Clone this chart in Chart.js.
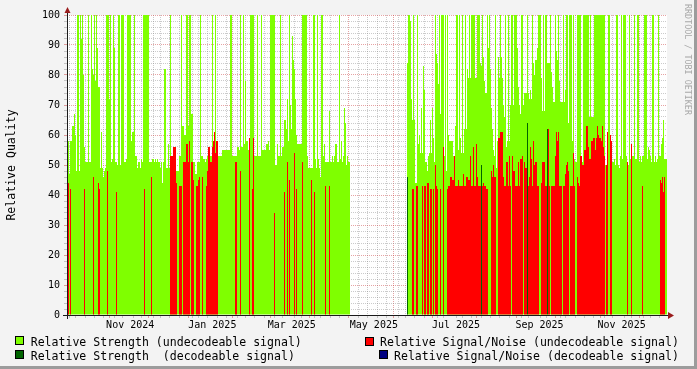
<!DOCTYPE html>
<html>
<head>
<meta charset="utf-8">
<script src="https://cdn.jsdelivr.net/npm/chart.js@4.4.0/dist/chart.umd.min.js"></script>
<style>
html,body{margin:0;padding:0;background:#f3f3f3;}
#wrap{position:relative;width:697px;height:369px;background:#f3f3f3;overflow:hidden;font-family:"DejaVu Sans Mono",monospace;}
#c{position:absolute;left:0;top:0;}
.frameR{position:absolute;right:0;top:0;width:3px;height:369px;background:#9c9c9c;}
.frameB{position:absolute;left:0;bottom:0;width:697px;height:3px;background:#9c9c9c;}
.lg{position:absolute;font-size:11.56px;line-height:12px;color:#000;white-space:pre;}
.bx{position:absolute;width:7px;height:7px;border:1px solid #000;}
.wm{position:absolute;left:683px;top:4px;font-size:8.4px;line-height:10px;color:#a8a8a8;writing-mode:vertical-rl;white-space:pre;}
</style>
</head>
<body>
<div id="wrap">
<canvas id="c" width="697" height="369"></canvas>
<div class="frameR"></div><div class="frameB"></div>
<div class="wm">RRDTOOL / TOBI OETIKER</div>
<div class="bx" style="left:15px;top:336px;background:#7FFF00"></div>
<div class="lg" style="left:30.7px;top:335.5px">Relative Strength (undecodeable signal)</div>
<div class="bx" style="left:15px;top:350px;background:#006400"></div>
<div class="lg" style="left:30.7px;top:349.5px">Relative Strength  (decodeable signal)</div>
<div class="bx" style="left:365px;top:336.5px;background:#FF0000"></div>
<div class="lg" style="left:380px;top:335.5px">Relative Signal/Noise (undecodeable signal)</div>
<div class="bx" style="left:379px;top:350px;background:#000080"></div>
<div class="lg" style="left:394px;top:349.5px">Relative Signal/Noise (decodeable signal)</div>
</div>
<script>
// ---- time frame ----
const startDate = Date.UTC(2024, 8, 30, 1, 30);
const spanDays = 445.67;

// ---- x axis labels (month label, centred mid-month) ----
const xTickLabels = ['Nov 2024','Jan 2025','Mar 2025','May 2025','Jul 2025','Sep 2025','Nov 2025'];
const xTickMonths = ['2024-11','2025-01','2025-03','2025-05','2025-07','2025-09','2025-11'];

// ---- y axis ----
const yMin = 0, yMax = 100, yMinorStep = 2, yLabelStep = 10;

// ---- series: one value per time step (null = no data) ----
const strengthUndecodeable = [
60,58,47,58,58,63,63,67,60,48,
100,100,48,100,92,100,80,56,51,51,
51,100,51,51,100,82,80,100,78,100,
89,76,76,49,61,49,46,48,49,100,
100,100,72,100,51,52,100,89,51,51,
50,100,100,50,100,100,100,51,51,52,
100,100,100,100,58,61,61,100,53,53,
49,51,51,49,52,51,100,100,100,100,
100,100,51,51,51,52,52,51,52,51,
52,51,51,49,51,44,51,82,82,49,
49,57,49,100,49,48,48,50,48,48,
48,48,53,53,100,63,63,60,60,100,
100,63,100,100,67,67,51,51,47,47,
51,51,51,100,53,53,52,52,51,52,
53,53,53,53,53,100,53,53,100,53,
55,53,53,53,53,55,55,55,55,55,
55,55,55,100,100,53,53,53,53,53,
56,56,55,100,56,56,100,57,78,58,
58,55,55,100,100,100,100,53,53,53,
100,53,53,53,100,55,55,55,55,57,
57,58,55,100,100,100,100,100,50,50,
57,53,53,100,53,56,56,65,65,62,
72,58,100,70,62,93,85,82,72,60,
57,57,57,57,57,100,100,100,100,100,
53,49,49,49,49,49,100,100,52,49,
100,52,49,46,100,100,53,57,51,51,
51,51,68,51,51,53,51,53,57,57,
51,51,100,52,58,51,53,69,64,50,
53,51,51,
null,null,null,null,null,null,null,null,null,null,
null,null,null,null,null,null,null,null,null,null,
null,null,null,null,null,null,null,null,null,null,
null,null,null,null,null,null,null,null,null,null,
null,null,null,null,null,null,null,null,null,null,
null,null,null,null,null,null,null,
84,100,100,98,72,65,100,65,44,44,
100,57,60,54,69,54,83,75,51,51,
48,53,54,65,54,69,59,51,100,87,
84,77,100,67,100,100,100,53,100,48,
100,60,58,58,58,58,53,53,63,100,
100,55,100,59,54,100,54,62,100,62,
82,79,100,79,100,100,100,100,79,79,
100,100,100,84,83,100,86,78,74,74,
100,89,100,82,69,62,55,53,100,49,
58,86,79,100,86,79,70,66,100,56,
58,100,58,70,100,100,70,100,100,100,
89,76,70,67,100,100,70,74,74,74,
100,74,72,75,72,100,84,80,85,85,
89,100,100,100,79,68,100,68,100,100,
84,84,84,100,81,76,71,71,100,88,
85,100,78,71,71,71,100,71,75,100,
100,64,100,100,100,58,100,52,51,51,
100,100,100,100,51,51,100,100,100,100,
100,100,66,100,66,66,66,100,100,100,
100,100,100,100,100,100,100,100,50,50,
50,100,100,53,53,51,51,52,50,100,
100,50,49,53,100,52,100,100,100,53,
50,50,100,52,52,53,53,100,52,52,
100,100,51,53,51,53,53,100,100,100,
52,56,55,53,51,100,100,51,53,51,
52,100,53,53,57,59,65,52,52,52
];

const snrUndecodeable = [
42,44,0,42,0,0,0,0,0,0,
0,0,0,0,0,0,0,42,0,0,
0,0,0,0,0,0,46,0,0,0,
0,44,42,0,0,0,0,0,0,0,
48,0,0,0,0,0,0,0,0,41,
0,0,0,0,0,0,0,0,0,0,
0,0,0,0,0,0,0,0,0,0,
0,0,0,0,0,0,0,42,0,0,
0,0,0,0,46,0,0,0,0,0,
0,0,0,0,0,0,0,0,0,0,
0,0,0,53,53,53,56,56,56,44,
0,0,43,43,43,0,51,51,51,57,
57,51,58,0,51,51,45,0,0,43,
43,45,46,0,0,46,0,0,0,43,
48,56,56,51,51,56,58,61,54,58,
58,0,0,0,0,0,0,0,0,0,
0,0,0,0,0,0,0,0,51,51,
0,0,0,48,0,0,0,0,0,0,
0,0,59,0,0,42,59,0,0,0,
0,0,0,0,0,0,0,0,0,0,
0,0,0,0,0,0,0,34,0,0,
0,0,0,0,0,0,0,41,0,0,
51,0,45,0,0,0,0,54,0,42,
0,0,0,0,0,51,0,0,0,0,
0,0,0,0,45,0,0,41,0,0,
0,0,0,0,0,0,0,0,43,0,
0,0,43,0,0,0,0,0,0,0,
0,0,0,0,0,0,0,0,0,0,
0,0,0,
null,null,null,null,null,null,null,null,null,null,
null,null,null,null,null,null,null,null,null,null,
null,null,null,null,null,null,null,null,null,null,
null,null,null,null,null,null,null,null,null,null,
null,null,null,null,null,null,null,null,null,null,
null,null,null,null,null,null,null,
0,0,0,0,0,42,42,0,0,43,
43,0,0,0,0,43,0,43,43,0,
44,44,0,42,42,0,42,0,50,43,
42,0,0,42,0,0,56,0,0,0,
42,43,43,46,46,45,45,53,43,43,
43,45,43,43,43,43,47,43,43,46,
46,45,45,53,43,43,56,43,43,57,
46,43,43,43,0,43,44,43,43,42,
42,0,0,0,48,46,50,46,46,0,
0,59,59,61,61,61,46,43,43,51,
51,43,53,43,0,53,48,48,43,43,
43,51,43,52,52,53,0,51,49,49,
0,43,46,56,52,43,58,50,51,51,
43,43,0,0,44,51,51,51,43,43,
0,62,43,0,43,43,43,43,53,61,
58,61,43,43,43,0,43,43,47,50,
51,48,0,43,43,43,54,43,0,0,
46,44,43,53,53,50,50,55,55,63,
63,56,52,52,58,58,59,59,55,59,
63,60,59,59,58,63,56,53,0,50,
61,0,0,60,58,0,0,0,0,0,
0,0,0,0,0,0,0,0,0,0,
51,0,0,0,57,0,0,0,0,0,
0,0,0,0,0,43,0,0,0,0,
0,0,0,0,0,0,0,0,0,0,
0,0,0,45,44,46,41,46,0,0
];

// decodeable signal: only a few time steps carry a value
const decodeStepIndex = [340, 414, 460, 480];
const strengthDecodeable = [46, 50, 64, 62];
const snrDecodeable = [null, null, null, null];

// ---- build library data ----
const DAY = 86400000;
const nSteps = strengthUndecodeable.length;
const stepDays = spanDays / nSteps;
const stepX = i => (i + 0.5) * stepDays;
const toDays = ms => (ms - startDate) / DAY;
const endDate = startDate + spanDays * DAY;

const ptsStrength = strengthUndecodeable.map((v, i) => ({x: stepX(i), y: v}));
const ptsSnr = snrUndecodeable.map((v, i) => ({x: stepX(i), y: v === 0 ? null : v}));
const ptsStrDec = decodeStepIndex.map((s, k) => ({x: stepX(s), y: strengthDecodeable[k]}));
const ptsSnrDec = decodeStepIndex.map((s, k) => ({x: stepX(s), y: snrDecodeable[k]}));

// x ticks: weekly minor grid, monthly major grid, mid-month labels
const tickKind = new Map();
const tickLabel = new Map();
const near = v => [...tickKind.keys()].find(k => Math.abs(k - v) < 0.01);
{
  let y = 2024, m = 9;
  while (true) {
    const t = Date.UTC(y, m, 1);
    if (t > endDate) break;
    if (t > startDate) tickKind.set(toDays(t), 'major');
    m++; if (m > 11) { m = 0; y++; }
  }
  let w = Date.UTC(2024, 9, 3);
  while (w <= endDate) {
    const v = toDays(w);
    if (near(v) === undefined) tickKind.set(v, 'minor');
    w += 7 * DAY;
  }
  xTickMonths.forEach((ym, k) => {
    const [yy, mm] = ym.split('-').map(Number);
    let v = toDays(Date.UTC(yy, mm - 1, 1) + 15 * DAY);
    const ex = near(v);
    if (ex !== undefined) { v = ex; tickKind.set(v, tickKind.get(v) + '+label'); }
    else tickKind.set(v, 'label');
    tickLabel.set(v, xTickLabels[k]);
  });
}
const xTicks = [...tickKind.keys()].sort((a, b) => a - b);
const yTicks = [];
for (let v = yMin; v <= yMax; v += yMinorStep) yTicks.push(v);

const MAJOR = 'rgba(200,50,50,0.45)';
const MINOR = 'rgba(130,130,130,0.42)';
const xGridColor = c => {
  const k = c.tick && tickKind.get(c.tick.value) || '';
  return k.startsWith('major') ? MAJOR : k.startsWith('minor') ? MINOR : 'rgba(0,0,0,0)';
};

const bgPlugin = {
  id: 'plotBg',
  beforeDraw(chart) {
    const {ctx, chartArea: a} = chart;
    ctx.save(); ctx.fillStyle = '#ffffff';
    ctx.fillRect(a.left, a.top, a.right - a.left, a.bottom - a.top);
    ctx.restore();
  }
};
const axesPlugin = {
  id: 'rrdAxes',
  afterDraw(chart) {
    const {ctx, chartArea: a} = chart;
    ctx.save();
    ctx.strokeStyle = '#1a1a1a'; ctx.lineWidth = 1;
    ctx.beginPath();
    ctx.moveTo(a.left - 4, a.bottom + 0.5); ctx.lineTo(a.right + 2, a.bottom + 0.5);
    ctx.moveTo(a.left + 0.5, a.bottom + 4); ctx.lineTo(a.left + 0.5, a.top - 3);
    ctx.stroke();
    ctx.fillStyle = '#9a1c1c';
    ctx.beginPath();
    ctx.moveTo(a.right + 1, a.bottom - 3); ctx.lineTo(a.right + 7, a.bottom + 0.5); ctx.lineTo(a.right + 1, a.bottom + 4);
    ctx.closePath(); ctx.fill();
    ctx.beginPath();
    ctx.moveTo(a.left - 2.5, a.top - 2); ctx.lineTo(a.left + 0.5, a.top - 8); ctx.lineTo(a.left + 3.5, a.top - 2);
    ctx.closePath(); ctx.fill();
    ctx.restore();
  }
};

const FONT = '"DejaVu Sans Mono", monospace';
new Chart(document.getElementById('c'), {
  type: 'bar',
  data: {
    datasets: [
      {label: 'Relative Strength (undecodeable signal)', data: ptsStrength, backgroundColor: '#7FFF00', order: 3},
      {label: 'Relative Signal/Noise (undecodeable signal)', data: ptsSnr, backgroundColor: '#FF0000', order: 2},
      {label: 'Relative Strength  (decodeable signal)', data: ptsStrDec, backgroundColor: '#006400', order: 1},
      {label: 'Relative Signal/Noise (decodeable signal)', data: ptsSnrDec, backgroundColor: '#000080', order: 0}
    ]
  },
  options: {
    responsive: false,
    animation: false,
    devicePixelRatio: 1,
    layout: {padding: {left: 0, right: 30, top: 15, bottom: 0}},
    datasets: {bar: {grouped: false, barPercentage: 1, categoryPercentage: 1, borderWidth: 0, inflateAmount: 0}},
    plugins: {legend: {display: false}, tooltip: {enabled: false}},
    scales: {
      x: {
        type: 'linear', min: 0, max: spanDays, offset: false, z: 1,
        afterBuildTicks: s => { s.ticks = xTicks.map(v => ({value: v})); },
        afterFit: s => { s.height = 54; },
        border: {display: false, dash: [1, 1]},
        grid: {lineWidth: 1, tickLength: 3, color: xGridColor, tickColor: xGridColor},
        ticks: {
          autoSkip: false, maxRotation: 0, minRotation: 0, padding: 1, color: '#000',
          font: {family: FONT, size: 10},
          callback: v => tickLabel.get(v) || ''
        }
      },
      y: {
        min: yMin, max: yMax, z: 1,
        afterBuildTicks: s => { s.ticks = yTicks.map(v => ({value: v})); },
        afterFit: s => { s.width = 67; },
        border: {display: false, dash: [1, 1]},
        grid: {
          lineWidth: 1, tickLength: 3,
          color: c => (c.tick && c.tick.value % yLabelStep === 0) ? MAJOR : MINOR,
          tickColor: c => (c.tick && c.tick.value % yLabelStep === 0) ? MAJOR : MINOR
        },
        ticks: {
          autoSkip: false, padding: 4, color: '#000',
          font: {family: FONT, size: 10},
          callback: v => (v % yLabelStep === 0 ? String(v) : '')
        },
        title: {display: true, text: 'Relative Quality', color: '#000', font: {family: FONT, size: 11.56}, padding: {top: 5, bottom: 0}}
      }
    }
  },
  plugins: [bgPlugin, axesPlugin]
});
</script>
</body>
</html>
